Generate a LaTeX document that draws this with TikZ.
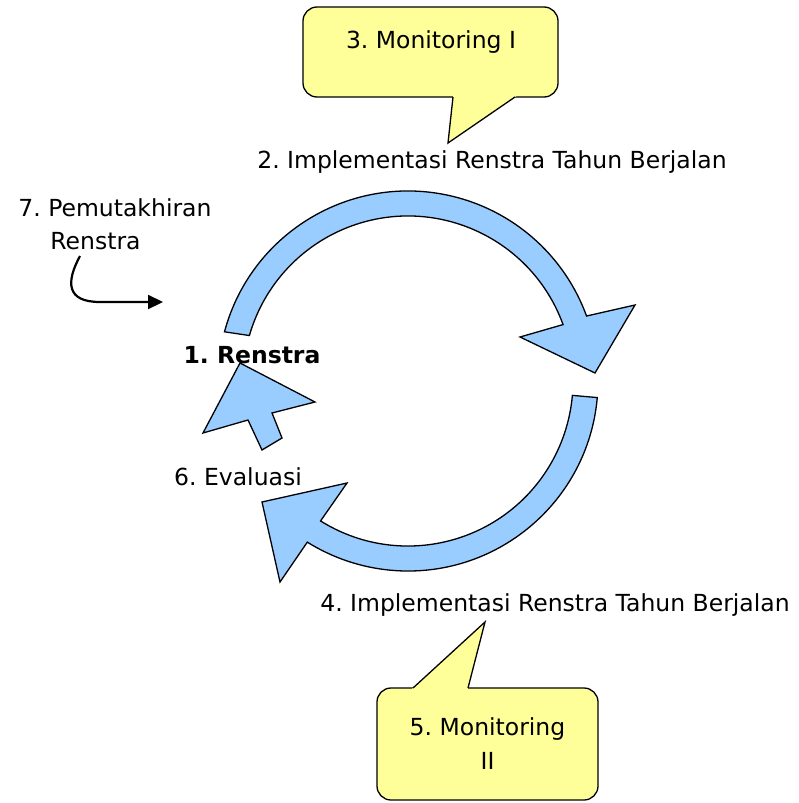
\documentclass[tikz,border=0pt]{standalone}
\usepackage{fontspec}
\setmainfont{DejaVu Sans}
\usepackage[dvipsnames]{xcolor}
\usetikzlibrary{calc,arrows.meta}
\definecolor{cycleblue}{HTML}{99CCFF}
\definecolor{noteyellow}{HTML}{FFFF99}
\frenchspacing

\begin{document}
\begin{tikzpicture}[x=1pt,y=-1pt,thick,
  step text/.style={font=\fontsize{23.5}{33}\selectfont,inner sep=0pt},
  cycle arrow/.style={fill=cycleblue,draw=black,line width=1.3pt,line join=miter},
  note box/.style={rectangle,rounded corners=14pt,fill=noteyellow,draw=black,line width=1.3pt},
  note tail/.style={draw=black,line width=1.3pt,line join=miter}]
            \useasboundingbox (0,0) rectangle (799,803);
            \coordinate (c) at (408,381);

            % upper half of the cycle
            \path[cycle arrow] (c) ++(-165:190) arc[start angle=-165,end angle=-20,radius=190]
                -- (635,305) -- (595,373) -- (520,337)
                -- ($(c)+(-20:165)$) arc[start angle=-20,end angle=-164,radius=165] -- cycle;
            % lower half of the cycle
            \path[cycle arrow] (c) ++(5:190) arc[start angle=5,end angle=122,radius=190]
                -- (280,582) -- (262,502) -- (347,483)
                -- ($(c)+(122:165)$) arc[start angle=122,end angle=5,radius=165] -- cycle;
            % evaluation back to renstra
            \path[cycle arrow] (240,363) -- (315,402) -- (272,413) -- (282,438)
                -- (262,450) -- (248,420) -- (203,433) -- cycle;

            \node[step text] (impl1) at (492,162) {2. Implementasi Renstra Tahun Berjalan};
            \node[step text] (impl2) at (555,605) {4. Implementasi Renstra Tahun Berjalan};
            \node[step text,font=\fontsize{23.5}{28}\bfseries] (renstra) at (252,355) {1. Renstra};
            \node[step text] (eval) at (238,477) {6. Evaluasi};
            \node[step text,align=left,anchor=west] (update) at (18,224) {7. Pemutakhiran\\\hspace*{32pt}Renstra};

            % callouts
            \node[note box,minimum width=255,minimum height=90] (box3) at (430.5,52) {};
            \coordinate (tip3) at (448,143);
            \fill[noteyellow] (453.2,95) -- (tip3) -- (517.9,95) -- cycle;
            \draw[note tail] (453,97) -- (tip3) -- (515,97);
            \node[step text] (mon1) at (431,42) {3. Monitoring I};

            \node[note box,minimum width=221,minimum height=112,align=center,
                  font=\fontsize{23.5}{34}\selectfont] (mon2) at (487.5,744) {5. Monitoring\\II};
            \coordinate (tip5) at (485,622);
            \fill[noteyellow] (410.8,690) -- (tip5) -- (467.5,690) -- cycle;
            \draw[note tail] (413,688) -- (tip5) -- (468,688);

            \coordinate (upd) at (80,256);
            \coordinate (into) at (163,302);
            \draw[line width=2.2pt,-{Triangle[length=15pt,width=14pt]}]
                (upd) .. controls (66,282) and (66,302) .. (100,302) -- (into);
\end{tikzpicture}
\end{document}
